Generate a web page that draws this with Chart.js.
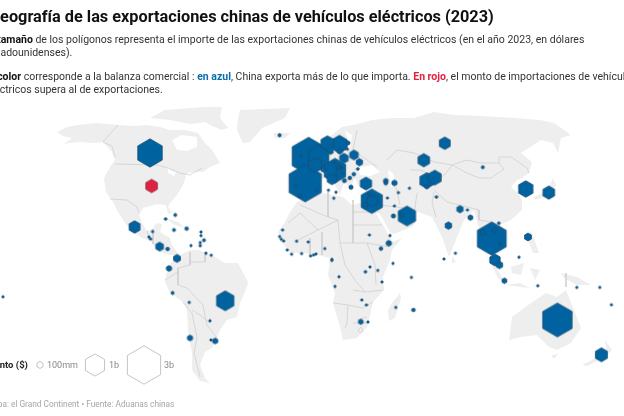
<!DOCTYPE html>
<html lang="es">
<head>
<meta charset="utf-8">
<title>Geografía de las exportaciones chinas de vehículos eléctricos (2023)</title>
<script src="https://cdn.jsdelivr.net/npm/chart.js@4"></script>
<style>
  html, body { margin: 0; padding: 0; background: #fff; width: 624px; height: 416px; overflow: hidden; }
  body { position: relative; font-family: Roboto, sans-serif; color: #333; }
  #map { position: absolute; left: 0; top: 0; }
  .txt { position: absolute; white-space: nowrap; }
  #title { left: -11px; top: 6px; font-size: 16.3px; line-height: 22px; font-weight: 700; color: #111; }
  #intro { left: -14px; top: 33px; font-size: 10.5px; line-height: 13px; }
  #intro p { margin: 0 0 11px 0; }
  #intro b { color: #111; }
  #intro .blue { color: #0a6eab; }
  #intro .red { color: #e0213f; }
  #source { left: -14px; top: 397px; font-size: 8.3px; line-height: 14px; color: #a6a6a6; }
  .leg { top: 358px; font-size: 9px; line-height: 14px; color: #888; }
  #legTitle { left: -14px; font-size: 9.5px; font-weight: 700; color: #222; }
  canvas.legHex { position: absolute; }
</style>
</head>
<body>
<canvas id="map" width="624" height="416"></canvas>
<div class="txt" id="title">Geografía de las exportaciones chinas de vehículos eléctricos (2023)</div>
<div class="txt" id="intro">
  <p>El <b>tamaño</b> de los polígonos representa el importe de las exportaciones chinas de vehículos eléctricos (en el año 2023, en dólares<br>estadounidenses).</p>
  <p>El <b>color</b> corresponde a la balanza comercial : <b class="blue">en azul</b>, China exporta más de lo que importa. <b class="red">En rojo</b>, el monto de importaciones de vehículos<br>eléctricos supera al de exportaciones.</p>
</div>
<div class="txt leg" id="legTitle">Monto ($)</div>
<div class="txt" id="source">Mapa: el Grand Continent • Fuente: Aduanas chinas</div>

<script>
// ===== values: [map lon, map lat, exports in $ millions] =====
const americasMarks = [
  [-84,52.5,1645],[-91.7,15.5,324],[-84.5,10.5,8],[-83.7,9.5,8],[-82.7,13.2,8],[-79.2,5.7,165],[-75.2,4.5,33],
  [-76.2,19.5,18],[-71.4,21.5,24],[-72,14,24],[-65.7,14.7,33],[-58.5,13,8],[-58.5,11.2,5],[-57,8.9,24],
  [-58.9,7.7,8],[-58.9,6.2,16],[-63.5,6.2,8],[-56,2.4,12],[-70.5,-0.2,131],[-74.5,-5.2,73],[-72.7,-17.5,24],
  [-64.4,-22.2,12],[-64,-40,73],[-157.5,-19.4,8],[-54,-31.4,14],[-46.4,-21.4,816],[-51.4,-41.5,73],[-53.5,-41,14],
  [-53.4,1.4,8]
];
const africaMarks = [
  [6.9,-1.2,8],[10.5,-9.4,8],[8.5,-14.2,8],[23.7,-6.9,18],[26,-4.5,8],[29.9,-6.2,12],[37.5,-2.7,8],[32,-12,12],
  [46.7,-9.7,12],[38.9,-24.7,12],[47.7,-26,33],[21.9,-21,12],[24.2,-23.5,12],[21.4,-31.9,59],[25,-32,12],
  [-17.7,14,8],[-19.2,10.7,8],[-18.4,9.4,8],[-17.2,8.5,8],[-15.4,4,8],[-10.7,8.4,8],[-4.9,8,8],[-13.2,1.9,8],
  [-8.2,2.2,12],[-3.7,1,12],[-2.2,1.5,8],[-1,2,8],[3.4,4.7,12],[7,-0.7,8],[25.7,11.5,8],[35.4,7.4,73],[36,11.2,8],
  [31.5,4.7,33],[5.2,33.9,8],[9,32.9,8],[7.9,29.9,8],[-0.7,33.9,8]
];
const europeMarks = [
  [-19.2,61.4,26],[-4.7,50.9,2946],[-6.4,37.4,2854],[10.7,56.9,661],[4.7,57.4,459],[0.4,50.7,1100],[-1.5,46.4,459],
  [8.5,43.7,1250],[7,39.4,247],[6.2,53.4,89],[10.9,53.4,73],[13,49.9,204],[18,51.5,204],[20.7,47.9,112],[2.7,44.4,73],
  [19.9,44.5,18],[17.9,41.9,33],[15.9,40,33],[13.2,38.7,43],[15,57.5,40],[14.7,54.4,8],[16.5,35.4,43],[-8.4,50.9,18],
  [-11.2,35.9,33],[-9.2,31,33],[8.2,47.9,18],[10,45.7,40],[11.4,45.4,18],[12.2,42.4,8],[9,41.5,8],[9.5,44,8]
];
const asiaMarks = [
  [24,37.2,345],[26.9,28.4,1235],[27.2,28.7,294],[23.5,26.5,59],[25.2,32,8],[27.2,30.7,33],[33.9,38.5,59],[33.9,37.4,33],
  [38.2,37.5,73],[40.2,32.7,8],[45.7,34.9,8],[34.7,30,8],[38.2,26,14],[37.7,21,43],[44.5,21,816],[41.9,21.7,40],[41,22.2,8],
  [63.4,57.4,324],[52.9,48.9,366],[54.4,38.7,522],[58.4,40.2,459],[54.4,35.7,43],[82.4,45.4,24],[103.9,34.5,562],
  [115.4,32.7,366],[59.2,30.5,18],[71,24.4,112],[74.7,24,12],[76.2,20.2,64],[65.2,16.2,118],[86.9,9.7,2276],[82.5,12.7,73],
  [88,14,59],[91,7.2,33],[90.4,17.4,18],[88.5,-1,294],[105,10.5,131],[100.5,0.4,12],[68.7,2.4,8],[63,-0.5,8]
];
const oceaniaMarks = [
  [90.7,-3.5,118],[93.2,-11.4,64],[109.9,-13.9,8],[129.4,-14.7,8],[140.9,-14.7,8],[146.7,-23.4,8],[119.7,-31,2359],[141.7,-48.4,400]
];
const deficitMarks = [[-83.2,36,366]];

const legendAmounts = [100, 1000, 3000];
const legendLabels = ['100mm', '1b', '3b'];

// ===== land, [lon, lat] outlines =====
const northAmerica = [[-130.5,63],[-125.5,65.5],[-120,66.5],[-110.5,67.5],[-100,66.5],[-92.5,66],[-85.5,66.5],[-79,65.5],[-74,64],[-66.5,64],[-60,62.5],[-56.5,57.5],[-53,54],[-49,47.5],[-54,45.5],[-57.5,43],[-60.5,43],[-65.5,42.5],[-67.5,36.5],[-70.5,31.5],[-74,27.5],[-75,25.5],[-73,22.5],[-75,22],[-76,26.5],[-80.5,27],[-87.5,25],[-89.5,21.5],[-88,17.5],[-85.5,13.5],[-82.5,14.5],[-81,17.5],[-78,17],[-79,13],[-74,10],[-73,6.5],[-70.5,3],[-69,1.5],[-74,1.5],[-79,3],[-84,8.5],[-88,10],[-93,13],[-96.5,17.5],[-100,23],[-102.5,28],[-106,33],[-107,40],[-104,45.5],[-101.5,49],[-103,53],[-107.5,58],[-111.5,57.5],[-119,58],[-125,57.5],[-134,54],[-127.5,56.5],[-123,60],[-127.5,61]];
const arcticIslands = [[-84,70],[-76.5,74],[-56.5,75.5],[-48,75.5],[-49,70],[-45,65],[-48,64],[-53,66],[-56.5,68],[-64,67],[-74,69]];
const greenland = [[-39,74],[-14,75],[-16.5,70],[-28,65],[-34,58],[-37.5,57.5],[-40.5,64],[-40,70]];
const iceland = [[-22.5,62.5],[-14,62.5],[-16.5,60],[-21.5,60]];
const southAmerica = [[-69,1.5],[-64,4],[-60,4],[-56,2.5],[-51.5,0.5],[-46.5,-2.5],[-40,-2.5],[-35,-12],[-35.5,-14.5],[-39,-22.5],[-40.5,-29.5],[-45.5,-31],[-49,-36],[-50.5,-40],[-53,-45],[-56.5,-47],[-59,-53.5],[-56.5,-60],[-54,-62.5],[-59,-61.5],[-63,-56],[-63,-47.5],[-65,-36],[-65.5,-26],[-67.5,-22],[-74,-17.5],[-76.5,-12],[-75.5,-6],[-72.5,-1]];
const africa = [[-10.5,28],[-5.5,30.5],[2.5,32.5],[12.5,30.5],[17,26.5],[21,27.5],[27,26.5],[30,20.5],[33.5,15],[37,8],[42,10],[37,4],[36,-1],[32.5,-9.5],[33,-16],[27.5,-22],[26,-28.5],[24.5,-34.5],[19.5,-40],[12.5,-41],[11,-34.5],[7.5,-22.5],[8.5,-17.5],[5,-8.5],[6,0],[-0.5,1.5],[-7.5,2.5],[-14,2.5],[-18,8],[-20,13],[-16.5,18],[-14,23]];
const madagascar = [[41,-17.5],[41.5,-20],[38.5,-30],[35.5,-31.5],[35,-26],[37,-22.5]];
const eurasia = [[-12.5,35],[-12,41.5],[-7,43],[-10.5,49],[-1,50.5],[3.5,54],[5,60],[12,65.5],[20,67],[27,69],[37,70],[48,70],[58,73],[68,71.5],[81.5,71],[98,70],[111,69],[118,67.5],[126.5,61.5],[121.5,60],[120,52.5],[117.5,57.5],[111.5,59],[101.5,52.5],[107,48],[105.5,42.5],[102,40],[99.5,39],[96.5,35.5],[100,32.5],[102,29],[102,24],[96.5,19],[91,16.5],[94.5,9],[91,4],[88,6.5],[88,0.5],[85,4],[83,10],[80,16.5],[78,24],[73,19],[65.5,0.5],[62,10.5],[57,20.5],[51.5,22.5],[45.5,25],[43,25],[46,21.5],[49.5,19],[47,15.5],[38,12],[36,13],[29,25.5],[26,30.5],[27,36],[20,36],[18.5,40],[16,34],[13.5,39],[11,31.5],[6,41.5],[1,39],[-4,33],[-10.5,31]];
const sumatra = [[84,1.5],[90,-6],[93.5,-12.5],[90,-10]];
const java = [[93.5,-13.5],[106,-15],[101,-12.5]];
const borneo = [[96.5,-4.5],[103,-2.5],[101.5,-8.5],[97,-7.5]];
const sulawesi = [[106,-5],[111,-6],[108.5,-11]];
const newGuinea = [[121.5,-7.5],[129.5,-9.5],[136.5,-13.5],[129.5,-13.5],[123,-10]];
const philippines = [[106.5,14],[110.5,2.5],[107.5,2.5],[105,9]];
const japan = [[117.5,40],[119,36.5],[116,31.5],[108.5,29],[108,30.5],[115,34]];
const sriLanka = [[67,1],[69,-2],[67,-2.5]];
const cuba = [[-76.5,20],[-70,18],[-66.5,15],[-71.5,16.5]];
const australia = [[95.5,-41],[97,-29.5],[106.5,-22.5],[114,-17.5],[119.5,-19.5],[124,-16],[128,-26],[131.5,-35],[126.5,-42.5],[119.5,-46],[115.5,-44.5],[109.5,-38.5],[101.5,-39.5]];
const tasmania = [[116.5,-48.5],[120,-48],[118,-50.5]];
const nzSouth = [[132,-53.5],[139,-50],[140.5,-51],[134.5,-54]];
const nzNorth = [[143.5,-41],[147,-46],[144.5,-48.5]];
const landShapes = [northAmerica, arcticIslands, greenland, iceland, southAmerica, africa, madagascar, eurasia, sumatra, java, borneo, sulawesi, newGuinea, philippines, japan, sriLanka, cuba, australia, tasmania, nzSouth, nzNorth];

// inland water, painted over the land
const hudsonBay = [[-73,59],[-68,61.5],[-60.5,60.5],[-60.5,55.5],[-65.5,53.5],[-70.5,54]];
const greatLakes = [[-75,45],[-73,43.5],[-71,43],[-72,41],[-75,42.5]];
const blackSea = [[20,45],[27,46.5],[31,43],[26,41],[21,41.5]];
const caspian = [[35,44],[37.5,42.5],[39,35.5],[36.5,35.5],[35.5,40]];
const baltic = [[13.5,64],[17,61.5],[16,54],[13.5,55],[14.5,60]];
const waterShapes = [hudsonBay, greatLakes, blackSea, caspian, baltic];

// country borders
const borderLines = [
  [[-100,66.5],[-107.5,58],[-103,56],[-101.5,50.5]],
  [[-101.5,47],[-80.5,46.5],[-75,45],[-69,42.5],[-64,41.5],[-58,45]],
  [[-104,29.5],[-95.5,29],[-90.5,25.5],[-89.5,22.5]],
  [[-85.5,13.5],[-84,9]],[[-82.5,14.5],[-82.5,7]],
  [[-64,3],[-64,-3.5],[-70,-5],[-70,-13.5],[-65.5,-15],[-57.5,-23.5],[-55.5,-33.5],[-50.5,-40]],
  [[-76.5,-11],[-70,-7]],
  [[-67.5,-22],[-63,-27.5],[-60.5,-39.5],[-62,-47.5],[-59,-59.5]],
  [[-63,-26],[-59,-28.5],[-54,-32.5]],
  [[-56.5,3],[-56.5,-2],[-64,-2]],
  [[-9,26.5],[5,20.5],[10,19]],[[5,33],[5,20.5]],
  [[17.5,29],[17.5,7.5]],[[17.5,23],[31,23]],[[17.5,16.5],[32,16.5]],
  [[-15,17.5],[-9,22.5],[0,14],[10,19]],[[-10,9],[0,14]],
  [[11,7.5],[17.5,7.5],[24.5,7.5],[36,5.5]],
  [[10,19],[11,7.5],[13.5,-3.5],[18.5,-11],[23.5,-17],[32.5,-16]],
  [[24.5,7.5],[28.5,-3.5],[29,-13.5]],[[17.5,-16],[23.5,-17]],
  [[7.5,-22.5],[15,-23.5],[14.5,-32.5],[13.5,-35]],
  [[15,-23.5],[22,-25],[27.5,-22]],[[19.5,-31],[24.5,-29.5]],[[17.5,-32.5],[24.5,-32.5]],
  [[20,-36],[21.5,-34.5],[22.5,-36.5],[21,-37.5],[20,-36]],
  [[-4,10],[-4,1.5]],[[2,13],[2,1.5]],
  [[124,-7.5],[124,-14.5]],
  [[67,46.5],[74,49],[81.5,47.5],[90.5,47.5],[93,44.5],[86.5,40],[80.5,40],[74.5,42.5],[67,46.5]],
  [[90.5,47.5],[90.5,50.5],[96.5,50.5],[104.5,45],[105.5,42.5]],
  [[34.5,49],[39.5,54],[48,52.5],[58,48],[67,46.5],[64.5,43],[61.5,40]],
  [[58,34],[64.5,28],[74.5,25.5],[80.5,24],[80.5,19],[86.5,18]],
  [[58,33],[57,27.5],[59,20.5]],
  [[49.5,32.5],[48,21.5]],[[39,35.5],[41,26.5]],[[31,26.5],[43,25]],
  [[46,44],[51,44],[61.5,40]],
  [[19.5,64],[17.5,54],[29.5,45.5]]
];

// ===== styles =====
const LAND = '#eeeeee';
const BORDER = '#cbcbcb';
const BLUE = '#00639f';
const BLUE_EDGE = '#1c4a6e';
const RED = '#e0213f';
const RED_EDGE = '#7c2a3c';

// radius grows with the square root of the amount, tiny ones stay visible
const hexRadius = amount => Math.max(1.3, 0.35 * Math.sqrt(amount));

const hexCache = {};
function hexImage(r, fill, stroke, lineWidth) {
  const key = [r, fill, stroke, lineWidth].join('|');
  if (hexCache[key]) return hexCache[key];
  const size = Math.ceil(2 * r + 3);
  const c = document.createElement('canvas');
  c.width = size;
  c.height = size;
  const g = c.getContext('2d');
  g.beginPath();
  for (let i = 0; i < 6; i++) {
    const a = Math.PI / 2 + i * Math.PI / 3;
    const px = size / 2 + r * Math.cos(a);
    const py = size / 2 + r * Math.sin(a);
    if (i === 0) g.moveTo(px, py); else g.lineTo(px, py);
  }
  g.closePath();
  g.fillStyle = fill;
  g.fill();
  g.strokeStyle = stroke;
  g.lineWidth = lineWidth;
  g.stroke();
  hexCache[key] = c;
  return c;
}

const toPoints = shape => shape.map(([x, y]) => ({ x, y }));

function marksDataset(marks, fill, stroke, order) {
  const data = marks.slice().sort((a, b) => b[2] - a[2]).map(([x, y, amount]) => ({ x, y, amount }));
  return {
    data,
    order,
    showLine: false,
    pointRadius: 3,
    pointStyle: ctx => ctx.raw ? hexImage(hexRadius(ctx.raw.amount), fill, stroke, 0.7) : 'circle'
  };
}

const datasets = [
  ...landShapes.map(s => ({ data: toPoints(s), order: 5, showLine: true, fill: 'shape', backgroundColor: LAND, borderWidth: 0, pointRadius: 0 })),
  ...waterShapes.map(s => ({ data: toPoints(s), order: 4, showLine: true, fill: 'shape', backgroundColor: '#fff', borderWidth: 0, pointRadius: 0 })),
  ...borderLines.map(s => ({ data: toPoints(s), order: 3, showLine: true, fill: false, borderColor: BORDER, borderWidth: 0.7, pointRadius: 0 })),
  marksDataset([...americasMarks, ...africaMarks, ...europeMarks, ...asiaMarks, ...oceaniaMarks], BLUE, BLUE_EDGE, 1),
  marksDataset(deficitMarks, RED, RED_EDGE, 0)
];

new Chart(document.getElementById('map'), {
  type: 'scatter',
  data: { datasets },
  options: {
    responsive: false,
    animation: false,
    events: [],
    layout: { padding: 0, autoPadding: false },
    plugins: { legend: { display: false }, tooltip: { enabled: false } },
    scales: {
      x: { type: 'linear', display: false, min: -159, max: 153 },
      y: { type: 'linear', display: false, min: -79, max: 129 }
    }
  }
});

// ===== size legend =====
const legendCenters = [40, 95, 143.5];
const legendTextLeft = [47, 109, 164];
legendAmounts.forEach((amount, i) => {
  const c = hexImage(hexRadius(amount), '#fff', '#bdbdbd', 0.9);
  const hex = document.body.appendChild(document.createElement('canvas'));
  hex.className = 'legHex';
  hex.width = c.width;
  hex.height = c.height;
  hex.getContext('2d').drawImage(c, 0, 0);
  hex.style.left = (legendCenters[i] - c.width / 2) + 'px';
  hex.style.top = (365 - c.height / 2) + 'px';
  const label = document.body.appendChild(document.createElement('div'));
  label.className = 'txt leg';
  label.textContent = legendLabels[i];
  label.style.left = legendTextLeft[i] + 'px';
});
</script>
</body>
</html>
